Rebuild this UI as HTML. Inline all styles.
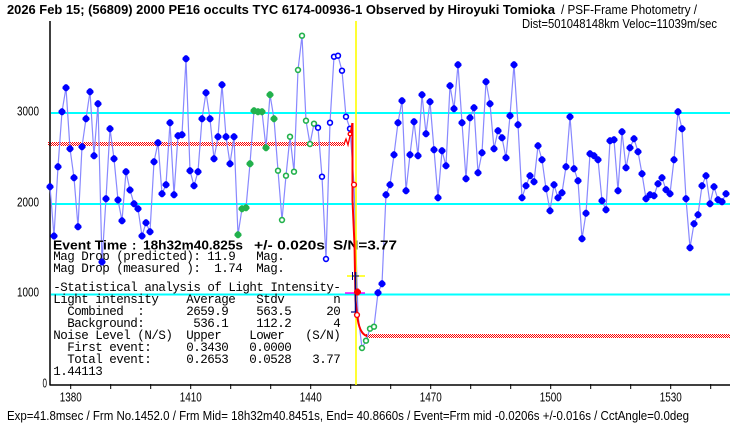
<!DOCTYPE html>
<html><head><meta charset="utf-8"><style>
html,body{margin:0;padding:0;background:#fff;}
svg{display:block;}
.t{font-family:"Liberation Sans",sans-serif;}
.m{font-family:"Liberation Mono",monospace;font-size:12.5px;letter-spacing:-0.5px;}
</style></head><body>
<svg width="740" height="425" viewBox="0 0 740 425" xmlns="http://www.w3.org/2000/svg">
<defs>
<pattern id="ck" width="2" height="2" patternUnits="userSpaceOnUse">
<rect width="2" height="2" fill="#fff"/><rect x="0" y="0" width="1" height="1" fill="#ff0000"/><rect x="1" y="1" width="1" height="1" fill="#ff0000"/>
</pattern>
<path id="d" d="M-1,-3.5h2l2.5,2.5v2l-2.5,2.5h-2l-2.5,-2.5v-2z"/>
<circle id="o" r="2.4"/>
</defs>
<rect width="740" height="425" fill="#fff"/>

<!-- cyan reference lines -->
<g stroke="#00ffff" stroke-width="2">
<line x1="51" y1="113" x2="730" y2="113"/>
<line x1="51" y1="204" x2="730" y2="204"/>
<line x1="51" y1="294.5" x2="730" y2="294.5"/>
</g>

<!-- model level bands -->
<rect x="48" y="142" width="297" height="4" fill="url(#ck)"/>
<rect x="366" y="334" width="364" height="4" fill="url(#ck)"/>

<!-- axes -->
<g stroke="#000" stroke-width="1.5">
<line x1="50" y1="21" x2="50" y2="385.5"/>
<line x1="50" y1="385" x2="730" y2="385"/>
</g>
<g stroke="#000" stroke-width="1">
<line x1="70.7" y1="384" x2="70.7" y2="389"/><line x1="110.7" y1="384" x2="110.7" y2="389"/><line x1="150.7" y1="384" x2="150.7" y2="389"/><line x1="190.7" y1="384" x2="190.7" y2="389"/><line x1="230.7" y1="384" x2="230.7" y2="389"/><line x1="270.7" y1="384" x2="270.7" y2="389"/><line x1="310.7" y1="384" x2="310.7" y2="389"/><line x1="350.7" y1="384" x2="350.7" y2="389"/><line x1="390.7" y1="384" x2="390.7" y2="389"/><line x1="430.7" y1="384" x2="430.7" y2="389"/><line x1="470.7" y1="384" x2="470.7" y2="389"/><line x1="510.7" y1="384" x2="510.7" y2="389"/><line x1="550.7" y1="384" x2="550.7" y2="389"/><line x1="590.7" y1="384" x2="590.7" y2="389"/><line x1="630.7" y1="384" x2="630.7" y2="389"/><line x1="670.7" y1="384" x2="670.7" y2="389"/><line x1="710.7" y1="384" x2="710.7" y2="389"/>
</g>

<!-- data line -->
<polyline fill="none" stroke="#8888ff" stroke-width="1.2" points="50,186.7 54,236 58,166.7 62,111.7 66,87.7 70,148.7 74,177.7 78,226.7 82,146.7 86,118.7 90,91.7 94,155.7 98,103.7 102,262 106,198.7 110,128.7 114,158.7 118,200 122,220.7 126,171.7 130,190 134,203.7 138,208.7 142,236 146,222.7 150,231.7 154,161.7 158,142.7 162,193.7 166,184.7 170,122.7 174,194.7 178,135.7 182,134.7 186,58.7 190,170.7 194,185.7 198,171.7 202,118.7 206,92.7 210,118.7 214,158.7 218,136.7 222,84.7 226,136.7 230,163.7 234,136.7 238,234.7 242,208.7 246,207.7 250,163.7 254,110.7 258,111.7 262,111.7 266,147.7 270,94.7 274,118.7 278,170.7 282,220 286,175.7 290,136.7 294,171.7 298,70 302,35.7 306,120.7 310,144 314,123.7 318,127.7 322,176.7 326,259 330,122.7 334,56.7 338,55.7 342,70.7 346,116.7 350,128.7 354,184.7 358,315 362,348 366,340.7 370,328.7 374,326.7 378,292.7 382,283.7 386,194.7 390,184.7 394,154.7 398,122.7 402,100.7 406,190.7 410,154.7 414,121.7 418,155.7 422,94.7 426,133.7 430,101.7 434,149.7 438,197.7 442,150.7 446,165.7 450,85.7 454,108.7 458,64.7 462,122.7 466,178.7 470,117.7 474,107.7 478,172.7 482,152.7 486,81.7 490,103.7 494,148.7 498,130.7 502,137.7 506,157.7 510,115.7 514,64.7 518,124.7 522,197.7 526,185.7 530,175.7 534,181.7 538,145.7 542,159.7 546,188.7 550,210.7 554,184.7 558,197.7 562,192.7 566,166.7 570,116.7 574,168.7 578,180.7 582,238.7 586,213.3 590,153.7 594,155.7 598,159.7 602,200.7 606,209.7 610,140.7 614,139.7 618,190.7 622,131.7 626,167.7 630,147.7 634,138.7 638,151.7 642,173.7 646,198.7 650,194.7 654,195.7 658,183.7 662,177.7 666,189.7 670,193.7 674,159.7 678,111.7 682,128.7 686,198.7 690,247.7 694,223.7 698,214.7 702,185.7 706,175.7 710,203.7 714,186.7 718,199.7 722,201.7 726,193.7"/>

<!-- title -->
<text class="t" x="7" y="14" font-size="13" font-weight="bold" textLength="548" lengthAdjust="spacingAndGlyphs">2026 Feb 15; (56809) 2000 PE16 occults TYC 6174-00936-1 Observed by Hiroyuki Tomioka</text>
<text class="t" x="561" y="14" font-size="12.5" textLength="136" lengthAdjust="spacingAndGlyphs">/ PSF-Frame Photometry /</text>
<text class="t" x="522" y="28" font-size="12.5" textLength="195" lengthAdjust="spacingAndGlyphs">Dist=501048148km Veloc=11039m/sec</text>

<!-- y labels -->
<g class="t" font-size="13">
<text x="17" y="115.5" textLength="22" lengthAdjust="spacingAndGlyphs">3000</text>
<text x="17" y="206.5" textLength="22" lengthAdjust="spacingAndGlyphs">2000</text>
<text x="17" y="296.5" textLength="22" lengthAdjust="spacingAndGlyphs">1000</text>
<text x="42.5" y="387.5" textLength="4.5" lengthAdjust="spacingAndGlyphs">0</text>
</g>
<!-- x labels -->
<g class="t" font-size="13">
<text x="59.7" y="401.5" textLength="22" lengthAdjust="spacingAndGlyphs">1380</text>
<text x="179.7" y="401.5" textLength="22" lengthAdjust="spacingAndGlyphs">1410</text>
<text x="299.7" y="401.5" textLength="22" lengthAdjust="spacingAndGlyphs">1440</text>
<text x="419.7" y="401.5" textLength="22" lengthAdjust="spacingAndGlyphs">1470</text>
<text x="539.7" y="401.5" textLength="22" lengthAdjust="spacingAndGlyphs">1500</text>
<text x="659.7" y="401.5" textLength="22" lengthAdjust="spacingAndGlyphs">1530</text>
</g>

<!-- footer -->
<text class="t" x="7" y="420" font-size="12.5" textLength="682" lengthAdjust="spacingAndGlyphs">Exp=41.8msec / Frm No.1452.0 / Frm Mid= 18h32m40.8451s,  End= 40.8660s / Event=Frm mid -0.0206s +/-0.016s / CctAngle=0.0deg</text>

<!-- info text -->
<g class="t" font-size="13" font-weight="bold">
<text x="53" y="249.5" textLength="74" lengthAdjust="spacingAndGlyphs">Event Time</text>
<text x="132" y="249.5">:</text>
<text x="143" y="249.5" textLength="100" lengthAdjust="spacingAndGlyphs">18h32m40.825s</text>
<text x="254" y="249.5" textLength="71" lengthAdjust="spacingAndGlyphs">+/- 0.020s</text>
<text x="333" y="249.5" textLength="64" lengthAdjust="spacingAndGlyphs">S/N=3.77</text>
</g>
<g class="m">
<text x="53.3" y="260">Mag Drop (predicted):</text><text x="207.3" y="260">11.9</text><text x="256.3" y="260">Mag.</text>
<text x="53.3" y="272">Mag Drop (measured ):</text><text x="214.3" y="272">1.74</text><text x="256.3" y="272">Mag.</text>
<text x="53.3" y="291">-Statistical analysis of Light Intensity-</text>
<text x="53.3" y="303">Light intensity</text><text x="186.3" y="303">Average</text><text x="256.3" y="303">Stdv</text><text x="333.3" y="303">n</text>
<text x="67.3" y="315">Combined</text><text x="137.3" y="315">:</text><text x="186.3" y="315">2659.9</text><text x="256.3" y="315">563.5</text><text x="326.3" y="315">20</text>
<text x="67.3" y="327">Background:</text><text x="193.3" y="327">536.1</text><text x="256.3" y="327">112.2</text><text x="333.3" y="327">4</text>
<text x="53.3" y="339">Noise Level (N/S)</text><text x="186.3" y="339">Upper</text><text x="249.3" y="339">Lower</text><text x="305.3" y="339">(S/N)</text>
<text x="67.3" y="351">First event:</text><text x="186.3" y="351">0.3430</text><text x="249.3" y="351">0.0000</text>
<text x="67.3" y="363">Total event:</text><text x="186.3" y="363">0.2653</text><text x="249.3" y="363">0.0528</text><text x="312.3" y="363">3.77</text>
<text x="53.3" y="375">1.44113</text>
</g>

<!-- markers: blue filled -->
<g fill="#0000ff">
<use href="#d" x="50" y="186.7"/><use href="#d" x="54" y="236"/><use href="#d" x="58" y="166.7"/><use href="#d" x="62" y="111.7"/><use href="#d" x="66" y="87.7"/><use href="#d" x="70" y="148.7"/><use href="#d" x="74" y="177.7"/><use href="#d" x="78" y="226.7"/><use href="#d" x="82" y="146.7"/><use href="#d" x="86" y="118.7"/><use href="#d" x="90" y="91.7"/><use href="#d" x="94" y="155.7"/><use href="#d" x="98" y="103.7"/><use href="#d" x="102" y="262"/><use href="#d" x="106" y="198.7"/><use href="#d" x="110" y="128.7"/><use href="#d" x="114" y="158.7"/><use href="#d" x="118" y="200"/><use href="#d" x="122" y="220.7"/><use href="#d" x="126" y="171.7"/><use href="#d" x="130" y="190"/><use href="#d" x="134" y="203.7"/><use href="#d" x="138" y="208.7"/><use href="#d" x="142" y="236"/><use href="#d" x="146" y="222.7"/><use href="#d" x="150" y="231.7"/><use href="#d" x="154" y="161.7"/><use href="#d" x="158" y="142.7"/><use href="#d" x="162" y="193.7"/><use href="#d" x="166" y="184.7"/><use href="#d" x="170" y="122.7"/><use href="#d" x="174" y="194.7"/><use href="#d" x="178" y="135.7"/><use href="#d" x="182" y="134.7"/><use href="#d" x="186" y="58.7"/><use href="#d" x="190" y="170.7"/><use href="#d" x="194" y="185.7"/><use href="#d" x="198" y="171.7"/><use href="#d" x="202" y="118.7"/><use href="#d" x="206" y="92.7"/><use href="#d" x="210" y="118.7"/><use href="#d" x="214" y="158.7"/><use href="#d" x="218" y="136.7"/><use href="#d" x="222" y="84.7"/><use href="#d" x="226" y="136.7"/><use href="#d" x="230" y="163.7"/><use href="#d" x="234" y="136.7"/>
<use href="#d" x="378" y="292.7"/><use href="#d" x="382" y="283.7"/><use href="#d" x="386" y="194.7"/><use href="#d" x="390" y="184.7"/><use href="#d" x="394" y="154.7"/><use href="#d" x="398" y="122.7"/><use href="#d" x="402" y="100.7"/><use href="#d" x="406" y="190.7"/><use href="#d" x="410" y="154.7"/><use href="#d" x="414" y="121.7"/><use href="#d" x="418" y="155.7"/><use href="#d" x="422" y="94.7"/><use href="#d" x="426" y="133.7"/><use href="#d" x="430" y="101.7"/><use href="#d" x="434" y="149.7"/><use href="#d" x="438" y="197.7"/><use href="#d" x="442" y="150.7"/><use href="#d" x="446" y="165.7"/><use href="#d" x="450" y="85.7"/><use href="#d" x="454" y="108.7"/><use href="#d" x="458" y="64.7"/><use href="#d" x="462" y="122.7"/><use href="#d" x="466" y="178.7"/><use href="#d" x="470" y="117.7"/><use href="#d" x="474" y="107.7"/><use href="#d" x="478" y="172.7"/><use href="#d" x="482" y="152.7"/><use href="#d" x="486" y="81.7"/><use href="#d" x="490" y="103.7"/><use href="#d" x="494" y="148.7"/><use href="#d" x="498" y="130.7"/><use href="#d" x="502" y="137.7"/><use href="#d" x="506" y="157.7"/><use href="#d" x="510" y="115.7"/><use href="#d" x="514" y="64.7"/><use href="#d" x="518" y="124.7"/><use href="#d" x="522" y="197.7"/><use href="#d" x="526" y="185.7"/><use href="#d" x="530" y="175.7"/><use href="#d" x="534" y="181.7"/><use href="#d" x="538" y="145.7"/><use href="#d" x="542" y="159.7"/><use href="#d" x="546" y="188.7"/><use href="#d" x="550" y="210.7"/><use href="#d" x="554" y="184.7"/><use href="#d" x="558" y="197.7"/><use href="#d" x="562" y="192.7"/><use href="#d" x="566" y="166.7"/><use href="#d" x="570" y="116.7"/><use href="#d" x="574" y="168.7"/><use href="#d" x="578" y="180.7"/><use href="#d" x="582" y="238.7"/><use href="#d" x="586" y="213.3"/><use href="#d" x="590" y="153.7"/><use href="#d" x="594" y="155.7"/><use href="#d" x="598" y="159.7"/><use href="#d" x="602" y="200.7"/><use href="#d" x="606" y="209.7"/><use href="#d" x="610" y="140.7"/><use href="#d" x="614" y="139.7"/><use href="#d" x="618" y="190.7"/><use href="#d" x="622" y="131.7"/><use href="#d" x="626" y="167.7"/><use href="#d" x="630" y="147.7"/><use href="#d" x="634" y="138.7"/><use href="#d" x="638" y="151.7"/><use href="#d" x="642" y="173.7"/><use href="#d" x="646" y="198.7"/><use href="#d" x="650" y="194.7"/><use href="#d" x="654" y="195.7"/><use href="#d" x="658" y="183.7"/><use href="#d" x="662" y="177.7"/><use href="#d" x="666" y="189.7"/><use href="#d" x="670" y="193.7"/><use href="#d" x="674" y="159.7"/><use href="#d" x="678" y="111.7"/><use href="#d" x="682" y="128.7"/><use href="#d" x="686" y="198.7"/><use href="#d" x="690" y="247.7"/><use href="#d" x="694" y="223.7"/><use href="#d" x="698" y="214.7"/><use href="#d" x="702" y="185.7"/><use href="#d" x="706" y="175.7"/><use href="#d" x="710" y="203.7"/><use href="#d" x="714" y="186.7"/><use href="#d" x="718" y="199.7"/><use href="#d" x="722" y="201.7"/><use href="#d" x="726" y="193.7"/>
</g>
<!-- green filled -->
<g fill="#22b14c">
<use href="#d" x="238" y="234.7"/><use href="#d" x="242" y="208.7"/><use href="#d" x="246" y="207.7"/><use href="#d" x="250" y="163.7"/><use href="#d" x="254" y="110.7"/><use href="#d" x="258" y="111.7"/><use href="#d" x="262" y="111.7"/><use href="#d" x="266" y="147.7"/><use href="#d" x="270" y="94.7"/><use href="#d" x="274" y="118.7"/>
</g>
<!-- green open -->
<g fill="#fff" stroke="#22b14c" stroke-width="1.6">
<use href="#o" x="278" y="170.7"/><use href="#o" x="282" y="220"/><use href="#o" x="286" y="175.7"/><use href="#o" x="290" y="136.7"/><use href="#o" x="294" y="171.7"/><use href="#o" x="298" y="70"/><use href="#o" x="302" y="35.7"/><use href="#o" x="306" y="120.7"/><use href="#o" x="310" y="144"/><use href="#o" x="314" y="123.7"/>
<use href="#o" x="362" y="348"/><use href="#o" x="366" y="340.7"/><use href="#o" x="370" y="328.7"/><use href="#o" x="374" y="326.7"/>
</g>
<!-- blue open -->
<g fill="#fff" stroke="#0000ff" stroke-width="1.6">
<use href="#o" x="318" y="127.7"/><use href="#o" x="322" y="176.7"/><use href="#o" x="326" y="259"/><use href="#o" x="330" y="122.7"/><use href="#o" x="334" y="56.7"/><use href="#o" x="338" y="55.7"/><use href="#o" x="342" y="70.7"/><use href="#o" x="346" y="116.7"/><use href="#o" x="350" y="128.7"/>
</g>

<!-- event line -->
<line x1="356" y1="21" x2="356" y2="385" stroke="#ffff00" stroke-width="1.6"/>

<!-- model transition -->
<path d="M344,144 L346,139 L348,145 L350,136 L352,123" fill="none" stroke="#ff0000" stroke-width="1.3"/>
<path d="M352.5,123 L352.5,200 L354.5,245 L355.5,300 L357,314 Q359,334 367,336" fill="none" stroke="#ff0000" stroke-width="2"/>
<g fill="#fff" stroke="#ff0000" stroke-width="1.4">
<circle cx="350" cy="134" r="1.8"/><circle cx="354" cy="184.7" r="2.4"/><circle cx="357" cy="315" r="2.4"/>
</g>

<!-- error bar -->
<line x1="347" y1="276" x2="365" y2="276" stroke="#ffff00" stroke-width="1.5"/>
<line x1="345" y1="293" x2="365" y2="293" stroke="#ff00ff" stroke-width="1.5"/>
<line x1="355.5" y1="272" x2="355.5" y2="312" stroke="#000080" stroke-width="1.5"/>
<line x1="352" y1="276" x2="359" y2="276" stroke="#000080" stroke-width="1"/>
<line x1="352.5" y1="272" x2="352.5" y2="280" stroke="#000080" stroke-width="1"/>
<line x1="351" y1="312" x2="356" y2="312" stroke="#000080" stroke-width="1.2"/>
<use href="#d" x="357.5" y="292" fill="#ff0000"/>
</svg>
</body></html>
